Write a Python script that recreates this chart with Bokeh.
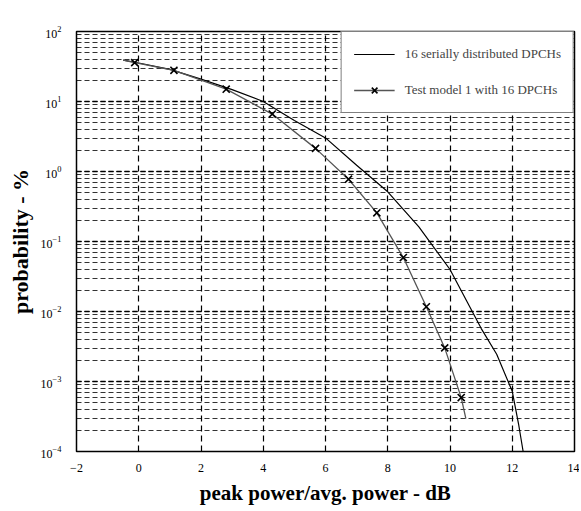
from bokeh.plotting import figure
from bokeh.models import FixedTicker, Legend, LegendItem, LogTicker
from bokeh.embed import file_html
from bokeh.resources import INLINE

# Data (probability in %)
serial_x = [-0.5, 0, 1, 2, 3, 4, 5, 6, 7, 8, 9, 10, 11, 11.5, 12, 12.2, 12.35]
serial_y = [38.9, 35.5, 28.8, 20.9, 14.8, 10.0, 5.37, 3.02, 1.23, 0.513, 0.162,
            0.0398, 0.00575, 0.00245, 0.000724, 0.000251, 0.0001]

tm1_line_x = [-0.5, -0.13, 1.13, 2.81, 4.29, 5.68, 6.74, 7.65, 8.5, 9.24, 9.83, 10.36, 10.51]
tm1_line_y = [38.9, 35.9, 27.9, 15.0, 6.61, 2.14, 0.776, 0.257, 0.0589, 0.0117, 0.00302, 0.000589, 0.000295]

tm1_mark_x = [-0.13, 1.13, 2.81, 4.29, 5.68, 6.74, 7.65, 8.5, 9.24, 9.83, 10.36]
tm1_mark_y = [35.9, 27.9, 15.0, 6.61, 2.14, 0.776, 0.257, 0.0589, 0.0117, 0.00302, 0.000589]

x_ticks = [-2, 0, 2, 4, 6, 8, 10, 12, 14]
y_ticks = [1e-4, 1e-3, 1e-2, 1e-1, 1e0, 1e1, 1e2]

p = figure(width=579, height=507, y_axis_type="log",
           x_range=(-2, 14), y_range=(1e-4, 1e2),
           output_backend="svg", toolbar_location=None,
           min_border_left=76, min_border_right=5, min_border_top=31, min_border_bottom=54)

p.outline_line_color = "black"
p.outline_line_width = 1.5
p.background_fill_color = "white"
p.border_fill_color = "white"

# grids
p.xgrid.ticker = FixedTicker(ticks=x_ticks)
p.xgrid.grid_line_color = "black"
p.xgrid.grid_line_dash = "6 4"
p.xgrid.grid_line_width = 1.2
p.ygrid.ticker = LogTicker(num_minor_ticks=10)
p.ygrid.grid_line_color = "black"
p.ygrid.grid_line_dash = "5 3"
p.ygrid.grid_line_width = 1.6
p.ygrid.minor_grid_line_color = "black"
p.ygrid.minor_grid_line_alpha = 0.8
p.ygrid.minor_grid_line_dash = "5 3"
p.ygrid.minor_grid_line_width = 1.0

# axes
p.xaxis.ticker = FixedTicker(ticks=x_ticks)
p.yaxis.ticker = FixedTicker(ticks=y_ticks)
for ax in (p.xaxis[0], p.yaxis[0]):
    ax.axis_line_color = None
    ax.major_tick_line_color = None
    ax.minor_tick_line_color = None
    ax.major_label_text_font = "Liberation Sans Narrow"
    ax.major_label_text_font_size = "12px"
    ax.major_label_text_color = "black"
    ax.axis_label_text_font = "Liberation Serif"
    ax.axis_label_text_font_style = "bold"
    ax.axis_label_text_color = "black"
p.xaxis.axis_label_text_font_size = "21px"
p.yaxis.axis_label_text_font_size = "22px"
p.xaxis.major_label_standoff = 6
p.yaxis.major_label_standoff = 9
p.xaxis.axis_label_standoff = 6
p.yaxis.axis_label_standoff = 5
p.xaxis.axis_label = "peak power/avg. power - dB"
p.yaxis.axis_label = "probability - %"

r1 = p.line(serial_x, serial_y, line_color="black", line_width=1.2)
r2 = p.line(tm1_line_x, tm1_line_y, line_color="#555555", line_width=1.3)
r3 = p.scatter(tm1_mark_x, tm1_mark_y, marker="x", size=10, line_color="black", line_width=1.6)

legend = Legend(items=[
    LegendItem(label="16 serially distributed DPCHs", renderers=[r1]),
    LegendItem(label="Test model 1 with 16 DPCHs", renderers=[r2, r3]),
], location="top_right")
legend.margin = 0
legend.padding = 12
legend.spacing = 16
legend.glyph_width = 41
legend.glyph_height = 20
legend.label_standoff = 10
legend.label_text_font = "Liberation Serif"
legend.label_text_font_size = "13px"
legend.border_line_color = "black"
legend.border_line_width = 1
legend.background_fill_color = "white"
legend.background_fill_alpha = 1.0
p.add_layout(legend)

open("out.html", "w").write(file_html(p, INLINE))
